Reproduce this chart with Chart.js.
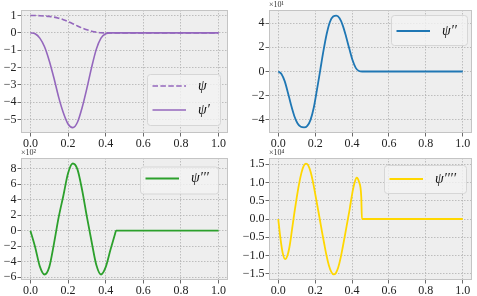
<!DOCTYPE html>
<html>
<head>
<meta charset="utf-8">
<script src="https://cdn.jsdelivr.net/npm/chart.js@4"></script>
<style>
  body { margin: 0; background: #fff; width: 477px; height: 296px; overflow: hidden; position: relative; }
  canvas { position: absolute; }
</style>
</head>
<body>
<canvas id="c1" width="238" height="148" style="left:0;top:0"></canvas>
<canvas id="c2" width="239" height="148" style="left:238px;top:0"></canvas>
<canvas id="c3" width="238" height="148" style="left:0;top:148px"></canvas>
<canvas id="c4" width="239" height="148" style="left:238px;top:148px"></canvas>
<script>
// values
const xTicks = [0, 0.2, 0.4, 0.6, 0.8, 1.0];

const xPsi = [0, 0.025, 0.05, 0.075, 0.1, 0.125, 0.15, 0.175, 0.2, 0.225, 0.25, 0.275, 0.3, 0.325, 0.35, 0.375, 0.4, 0.425, 1.0];
const psi  = [1, 1, 0.99, 0.975, 0.95, 0.91, 0.85, 0.76, 0.65, 0.53, 0.4, 0.28, 0.18, 0.1, 0.045, 0.012, 0, 0, 0];

const xD1 = [0, 0.025, 0.05, 0.075, 0.1, 0.125, 0.15, 0.175, 0.2, 0.225, 0.25, 0.275, 0.3, 0.325, 0.35, 0.375, 0.4, 0.425, 1.0];
const d1  = [0, -0.05, -0.3, -0.8, -1.6, -2.6, -3.7, -4.6, -5.25, -5.46, -5.15, -4.3, -3.2, -2.0, -0.95, -0.3, -0.05, 0, 0];

const xD2 = [0, 0.0175, 0.035, 0.0525, 0.07, 0.0875, 0.105, 0.1225, 0.14, 0.1575, 0.175, 0.1925, 0.21, 0.2275,
             0.245, 0.2625, 0.28, 0.2975, 0.315, 0.3325, 0.35, 0.3675, 0.385, 0.4025, 0.42, 0.4375, 0.455, 1.0];
const d2  = [0, -2, -8, -17.5, -28, -37, -43, -45.8, -46.3, -45, -40, -30, -15, 1,
             17, 31, 41, 45.5, 46.2, 44, 38, 29, 19, 9.5, 3, 0.4, 0, 0];

const xD3 = [0, 0.025, 0.05, 0.075, 0.1, 0.125, 0.15, 0.175, 0.2, 0.225, 0.25, 0.275, 0.3, 0.325, 0.35, 0.375, 0.4, 0.425, 0.45, 0.455, 1.0];
const d3  = [0, -210, -460, -565, -470, -170, 170, 450, 740, 865, 790, 520, 180, -140, -440, -565, -470, -250, -40, 0, 0];

const xD4 = [0, 0.0125, 0.025, 0.0375, 0.05, 0.0625, 0.075, 0.0875, 0.1, 0.1125, 0.125, 0.1375, 0.15, 0.1625,
             0.175, 0.1875, 0.2, 0.2125, 0.225, 0.2375, 0.25, 0.2625, 0.275, 0.2875, 0.3, 0.3125, 0.325, 0.3375,
             0.35, 0.3625, 0.375, 0.3875, 0.4, 0.4125, 0.425, 0.4375, 0.45, 0.4535, 1.0];
const d4  = [0, -5500, -9500, -11000, -10000, -7200, -2800, 1700, 5800, 9500, 12500, 14500, 15200, 14700,
             13000, 10300, 7000, 3500, 0, -3600, -7000, -10200, -12800, -14500, -15200, -14800, -13300, -10800,
             -7600, -4200, -700, 2800, 6700, 9700, 11300, 10200, 6000, 0, 0];

const yTicks1 = [-5, -4, -3, -2, -1, 0, 1];
const yTicks2 = [-40, -20, 0, 20, 40];
const yTicks3 = [-600, -400, -200, 0, 200, 400, 600, 800];
const yTicks4 = [-15000, -10000, -5000, 0, 5000, 10000, 15000];

const SERIF = '"Liberation Serif", "DejaVu Serif", serif';

function pts(xs, ys) {
  return xs.map((x, i) => ({ x: x, y: ys[i] }));
}

function fmt(v, div, dec) {
  let s = (v / div).toFixed(dec);
  if (Math.abs(v) < 1e-9) s = (0).toFixed(dec);
  return s.replace('-', '\u2212');
}

// plot background, frame, offset text and the legend box
const panelPlugin = {
  id: 'panel',
  beforeDraw(chart) {
    const a = chart.chartArea, ctx = chart.ctx;
    ctx.save();
    ctx.fillStyle = '#eeeeee';
    ctx.fillRect(a.left, a.top, a.right - a.left, a.bottom - a.top);
    ctx.restore();
  },
  afterDraw(chart) {
    const a = chart.chartArea, ctx = chart.ctx;
    const o = chart.options.plugins.panel;
    ctx.save();
    ctx.strokeStyle = '#c4c4c4';
    ctx.lineWidth = 1;
    ctx.strokeRect(a.left + 0.5, a.top + 0.5, a.right - a.left - 1, a.bottom - a.top - 1);

    if (o.offset) {
      ctx.fillStyle = '#333';
      ctx.font = '8px ' + SERIF;
      ctx.textBaseline = 'alphabetic';
      ctx.textAlign = 'left';
      ctx.fillText(o.offset, a.left, a.top - 3.5);
    }

    const b = o.box;
    ctx.beginPath();
    ctx.roundRect(b.x + 0.5, b.y + 0.5, b.w, b.h, 3);
    ctx.fillStyle = 'rgba(243,243,243,0.8)';
    ctx.fill();
    ctx.strokeStyle = '#d6d6d6';
    ctx.lineWidth = 1;
    ctx.stroke();

    chart.data.datasets.forEach((ds, i) => {
      const y = b.y + b.rows[i];
      ctx.beginPath();
      ctx.setLineDash(ds.borderDash || []);
      ctx.strokeStyle = ds.borderColor;
      ctx.lineWidth = ds.borderWidth;
      ctx.moveTo(b.x + 5.5, y);
      ctx.lineTo(b.x + 39, y);
      ctx.stroke();
      ctx.setLineDash([]);
      ctx.fillStyle = '#111';
      ctx.font = 'italic 14px ' + SERIF;
      ctx.textBaseline = 'middle';
      ctx.textAlign = 'left';
      ctx.fillText(ds.label, b.x + 51, y);
    });
    ctx.restore();
  }
};

function makePanel(id, datasets, p) {
  const tickFont = { family: SERIF, size: 12 };
  return new Chart(document.getElementById(id), {
    type: 'line',
    data: { datasets: datasets },
    options: {
      responsive: false,
      animation: false,
      layout: { padding: { top: 10, right: p.rightPad, left: 0, bottom: 0 } },
      elements: { point: { radius: 0 }, line: { cubicInterpolationMode: 'monotone' } },
      plugins: {
        legend: { display: false },
        tooltip: { enabled: false },
        panel: { offset: p.offset, box: p.box }
      },
      scales: {
        x: {
          type: 'linear',
          min: -0.05,
          max: 1.05,
          afterBuildTicks: s => { s.ticks = xTicks.map(v => ({ value: v })); },
          afterFit: s => { s.height = p.bottomH; },
          ticks: { font: tickFont, color: '#222', padding: 0, maxRotation: 0,
                   callback: v => v.toFixed(1) },
          grid: { color: '#b0b0b0', lineWidth: 0.8, tickLength: 3.5, tickColor: '#444',
                  tickWidth: 0.8, tickBorderDash: [] },
          border: { display: false, dash: [1.5, 1.5] }
        },
        y: {
          type: 'linear',
          min: p.yMin,
          max: p.yMax,
          afterBuildTicks: s => { s.ticks = p.yTicks.map(v => ({ value: v })); },
          afterFit: s => { s.width = p.leftW; },
          ticks: { font: tickFont, color: '#222', padding: 1,
                   callback: v => fmt(v, p.div, p.dec) },
          grid: { color: '#b0b0b0', lineWidth: 0.8, tickLength: 3.5, tickColor: '#444',
                  tickWidth: 0.8, tickBorderDash: [] },
          border: { display: false, dash: [1.5, 1.5] }
        }
      }
    },
    plugins: [panelPlugin]
  });
}

makePanel('c1', [
  { label: '\u03c8', data: pts(xPsi, psi), borderColor: '#9467bd', borderWidth: 1.6, borderDash: [5.5, 2.4] },
  { label: '\u03c8\u2032', data: pts(xD1, d1), borderColor: '#9467bd', borderWidth: 1.6 }
], { yMin: -5.77, yMax: 1.32, yTicks: yTicks1, div: 1, dec: 0, leftW: 21, rightPad: 10, bottomH: 15,
     box: { x: 147, y: 74, w: 73, h: 51, rows: [12, 36] } });

makePanel('c2', [
  { label: '\u03c8\u2032\u2032', data: pts(xD2, d2), borderColor: '#1f77b4', borderWidth: 1.8 }
], { yMin: -50.9, yMax: 50.9, yTicks: yTicks2, div: 10, dec: 0, leftW: 31, rightPad: 5, bottomH: 15,
     offset: '\u00d710\u00b9', box: { x: 153, y: 15, w: 76, h: 30, rows: [16] } });

makePanel('c3', [
  { label: '\u03c8\u2032\u2032\u2032', data: pts(xD3, d3), borderColor: '#2ca02c', borderWidth: 1.8 }
], { yMin: -636, yMax: 936, yTicks: yTicks3, div: 100, dec: 0, leftW: 21, rightPad: 10, bottomH: 16,
     offset: '\u00d710\u00b2', box: { x: 140, y: 18.5, w: 78, h: 27, rows: [12] } });

makePanel('c4', [
  { label: '\u03c8\u2032\u2032\u2032\u2032', data: pts(xD4, d4), borderColor: '#ffd700', borderWidth: 1.8 }
], { yMin: -16720, yMax: 16720, yTicks: yTicks4, div: 10000, dec: 1, leftW: 31, rightPad: 5, bottomH: 16,
     offset: '\u00d710\u2074', box: { x: 146, y: 17, w: 82, h: 28, rows: [14] } });
</script>
</body>
</html>
